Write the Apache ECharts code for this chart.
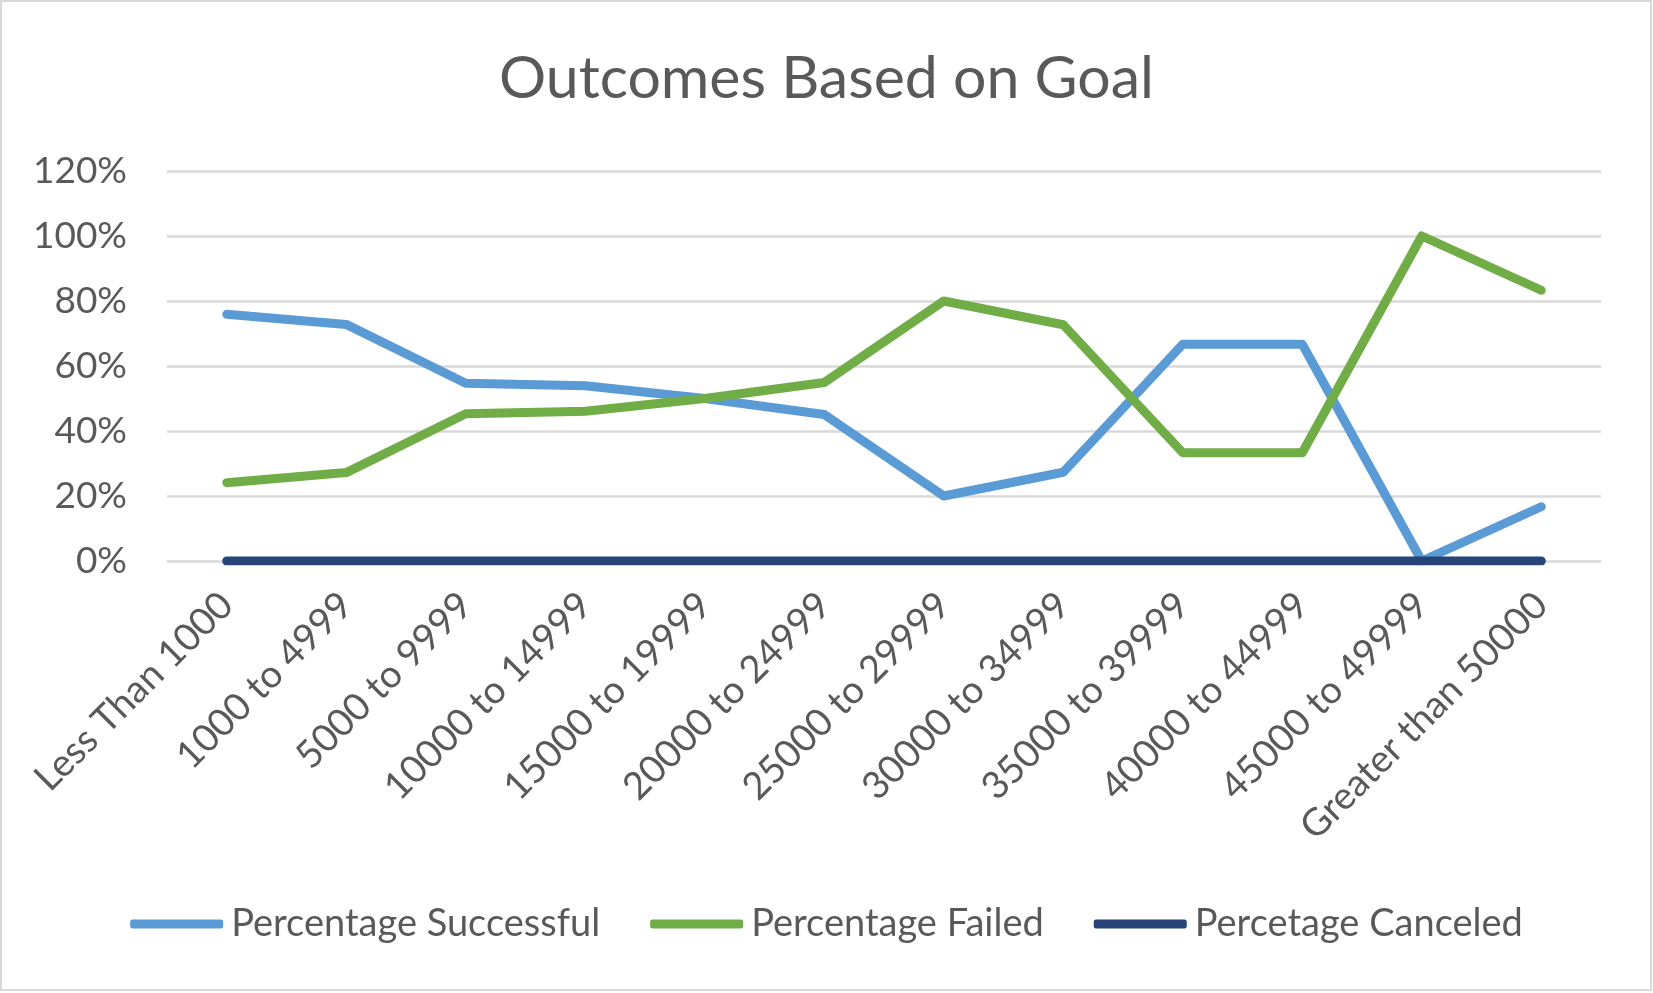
<!DOCTYPE html>
<html>
<head>
<meta charset="utf-8">
<script src="https://cdn.jsdelivr.net/npm/echarts@6/dist/echarts.min.js"></script>
<style>
  html, body { margin: 0; padding: 0; background: #fff; }
  #container { width: 1653px; height: 993px; }
</style>
</head>
<body>
<div id="container"></div>
<script>
// values (percent)
var categories = ['Less Than 1000', '1000 to 4999', '5000 to 9999', '10000 to 14999',
    '15000 to 19999', '20000 to 24999', '25000 to 29999', '30000 to 34999',
    '35000 to 39999', '40000 to 44999', '45000 to 49999', 'Greater than 50000'];
var successful = [75.9, 72.8, 54.7, 53.9, 50.0, 45.1, 20.0, 27.3, 66.7, 66.7, 0, 16.7];
var failed = [24.1, 27.2, 45.3, 46.1, 50.0, 54.9, 80.0, 72.7, 33.3, 33.3, 100, 83.3];
var canceled = [0, 0, 0, 0, 0, 0, 0, 0, 0, 0, 0, 0];
var yTicks = [0, 20, 40, 60, 80, 100, 120];

var font = 'Lato, "Open Sans", sans-serif';
var textColor = '#595959';

var dom = document.getElementById('container');
var myChart = echarts.init(dom);

var makeSeries = function(name, data, color) {
    return {
        name: name,
        type: 'line',
        data: data,
        symbol: 'none',
        animation: false,
        lineStyle: { color: color, width: 9, cap: 'round', join: 'round' },
        itemStyle: { color: color }
    };
};

var option = {
    backgroundColor: '#fff',
    graphic: [{
        type: 'rect',
        shape: { x: 1, y: 1, width: 1650, height: 989 },
        style: { fill: 'none', stroke: '#d9d9d9', lineWidth: 2 },
        silent: true
    }],
    title: {
        text: 'Outcomes Based on Goal',
        left: 'center',
        top: 44,
        textStyle: { fontFamily: font, fontSize: 59, fontWeight: 'normal', color: textColor }
    },
    legend: {
        bottom: 45,
        left: 'center',
        icon: 'roundRect',
        itemWidth: 93,
        itemHeight: 9,
        itemGap: 50,
        textStyle: { fontFamily: font, fontSize: 38, color: textColor, padding: [0, 0, 0, 3] }
    },
    grid: { left: 167, right: 52, top: 171, bottom: 432 },
    xAxis: {
        type: 'category',
        data: categories,
        axisLine: { show: false },
        axisTick: { show: false },
        axisLabel: { rotate: 45, margin: 38, fontFamily: font, fontSize: 38, color: textColor, interval: 0 }
    },
    yAxis: {
        type: 'value',
        min: yTicks[0],
        max: yTicks[yTicks.length - 1],
        interval: 20,
        axisLine: { show: false },
        axisTick: { show: false },
        splitLine: { lineStyle: { color: '#d9d9d9', width: 2.5 } },
        axisLabel: { formatter: '{value}%', margin: 40, fontFamily: font, fontSize: 37, color: textColor }
    },
    series: [
        makeSeries('Percentage Successful', successful, '#5b9bd5'),
        makeSeries('Percentage Failed', failed, '#70ad47'),
        makeSeries('Percetage Canceled', canceled, '#264478')
    ]
};
myChart.setOption(option, true);
</script>
</body>
</html>
